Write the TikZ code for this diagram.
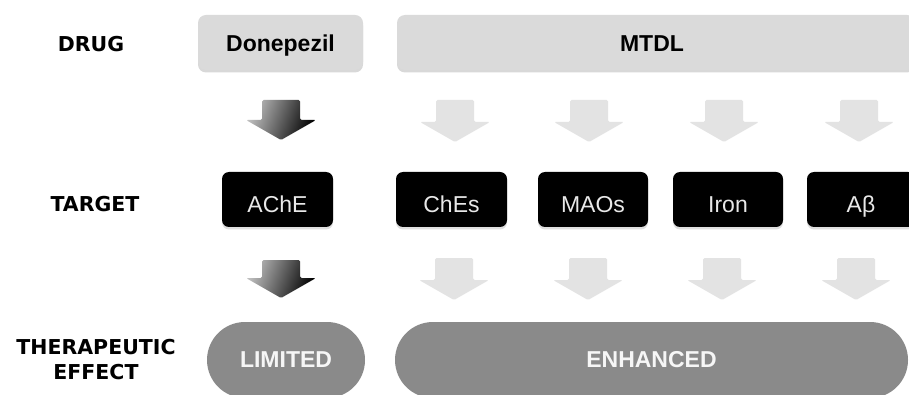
\documentclass[tikz,border=0pt]{standalone}
\usepackage{fontspec}
\setmainfont{Liberation Sans}
\newfontfamily\labelfont{DejaVu Sans}
\usetikzlibrary{shadows}
\definecolor{boxgray}{HTML}{DADADA}
\definecolor{pillgray}{HTML}{8A8A8A}
\definecolor{arrowgray}{HTML}{E3E3E3}
\definecolor{tgttext}{HTML}{E8E8E8}
\definecolor{pilltext}{HTML}{F6F6F6}
\begin{document}
\begin{tikzpicture}[x=1pt,y=-1pt,
  rowlabel/.style={font=\labelfont\bfseries\fontsize{20.5}{25}\selectfont, align=center, inner sep=0pt},
  drugbox/.style={fill=boxgray, rounded corners=8pt, minimum height=55pt, inner sep=0pt,
    font=\bfseries\fontsize{23}{27}\selectfont, text height=18.5pt, text depth=0pt,
    drop shadow={shadow xshift=0pt, shadow yshift=-2.5pt, opacity=0.3}},
  tgtbox/.style={fill=black, rounded corners=7pt, minimum height=55pt, minimum width=111pt, inner sep=0pt,
    text=tgttext, font=\fontsize{23}{27}\selectfont, text height=25.5pt, text depth=0pt,
    drop shadow={shadow xshift=0pt, shadow yshift=-2.5pt, opacity=0.25}},
  pill/.style={fill=pillgray, rounded corners=38pt, minimum height=76pt, inner sep=0pt,
    text=pilltext, font=\bfseries\fontsize{23}{27}\selectfont, text height=14pt, text depth=0pt},
  lightarrow/.style={fill=arrowgray, drop shadow={shadow xshift=0pt, shadow yshift=-1.5pt, opacity=0.15}},
  darkarrow/.style={left color=black!25, right color=black, shading angle=70},
  pics/blockarrow/.style={code={
    \path[pic actions, rounded corners=1.5pt] (-19,0) -- (19,0) -- (19,#1) -- (35,#1) -- (0,#1+20) -- (-35,#1) -- (-19,#1) -- cycle;}}
]
\useasboundingbox (0,0) rectangle (909,395);
\clip (0,0) rectangle (909,395);
\fill[white] (0,0) rectangle (909,395);

% row labels
\node[rowlabel] (ldrug) at (91,44.5) {DRUG};
\node[rowlabel] (ltarget) at (95,204) {TARGET};
\node[rowlabel] (leffect) at (96,360) {THERAPEUTIC\\EFFECT};

% drugs
\node[drugbox, minimum width=165pt] (done) at (280.5,42.5) {Donepezil};
\node[drugbox, minimum width=518pt] (mtdl) at (656,42.5) {\hspace*{-8pt}MTDL};

% first arrow row
\pic[darkarrow] (da1) at (281,100) {blockarrow=20};
\pic[lightarrow] (la1) at (455,100) {blockarrow=22};
\pic[lightarrow] (la2) at (589,100) {blockarrow=22};
\pic[lightarrow] (la3) at (724,100) {blockarrow=22};
\pic[lightarrow] (la4) at (859,100) {blockarrow=22};

% targets
\node[tgtbox] (ache) at (277.5,199.5) {AChE};
\node[tgtbox] (ches) at (451.5,199.5) {ChEs};
\node[tgtbox, minimum width=110pt] (maos) at (593,199.5) {MAOs};
\node[tgtbox, minimum width=110pt] (iron) at (728,199.5) {Iron};
\node[tgtbox, minimum width=108pt] (abeta) at (861,199.5) {Aβ};

% second arrow row
\pic[darkarrow] (da2) at (281,260) {blockarrow=18};
\pic[lightarrow] (lb1) at (454,258) {blockarrow=22};
\pic[lightarrow] (lb2) at (588,258) {blockarrow=22};
\pic[lightarrow] (lb3) at (722,258) {blockarrow=22};
\pic[lightarrow] (lb4) at (856,258) {blockarrow=22};

% effects
\node[pill, minimum width=158pt] (limited) at (286,360) {LIMITED};
\node[pill, minimum width=513pt] (enhanced) at (651.5,360) {ENHANCED};
\end{tikzpicture}
\end{document}
